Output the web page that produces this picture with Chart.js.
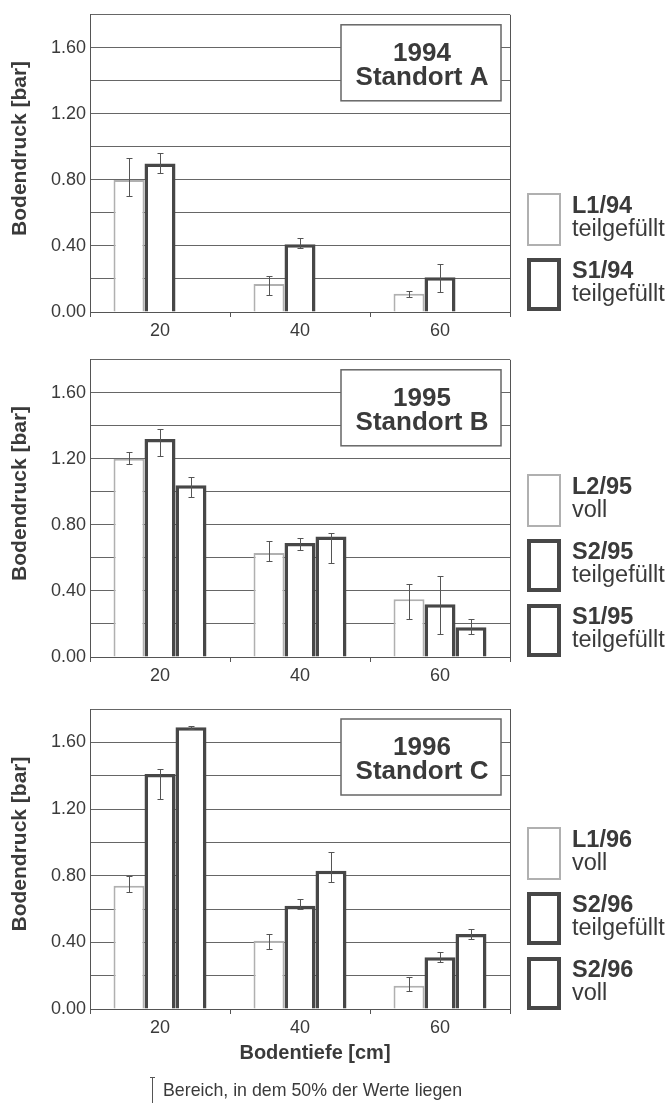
<!DOCTYPE html>
<html>
<head>
<meta charset="utf-8">
<script src="https://cdn.jsdelivr.net/npm/chart.js@4/dist/chart.umd.min.js"></script>
<style>
body { margin: 0; background: #fff; font-family: "Liberation Sans", Arial, sans-serif; color: #3a3a3a; }
#page { position: relative; width: 670px; height: 1103px; overflow: hidden; }
.panel { position: absolute; left: 0; }
.key-box { position: absolute; left: 527px; width: 34px; height: 53px; box-sizing: border-box; background: #fff; }
.key-box.light { border: 2px solid #b0b0b0; }
.key-box.dark { border: 4px solid #474747; }
.key-text { position: absolute; left: 572px; font-size: 23.5px; line-height: 23px; white-space: nowrap; }
.key-text b { display: block; }
#xtitle { position: absolute; left: 315px; top: 1040px; transform: translateX(-50%); font-weight: bold; font-size: 20px; line-height: 24px; white-space: nowrap; }
#note { position: absolute; left: 163px; top: 1080px; font-size: 17.8px; line-height: 20px; white-space: nowrap; }
#note-mark { position: absolute; left: 150px; top: 1077px; width: 5px; height: 30px; border-top: 1px solid #555;
  background: linear-gradient(#555, #555) center / 1px 100% no-repeat; }
</style>
</head>
<body>
<div id="page">
  <canvas id="c94" class="panel" width="670" height="345" style="top:0px"></canvas>
  <canvas id="c95" class="panel" width="670" height="345" style="top:345px"></canvas>
  <canvas id="c96" class="panel" width="670" height="413" style="top:690px"></canvas>
  <div id="xtitle">Bodentiefe [cm]</div>
  <div id="note-mark"></div>
  <div id="note">Bereich, in dem 50% der Werte liegen</div>
</div>
<script>
// Bodentiefe categories and labelled y ticks
const depths = ['20', '40', '60'];
const yLabelled = [0, 0.4, 0.8, 1.2, 1.6];

// 1994 Standort A
const l1_94 = [0.80, 0.17, 0.11];
const l1_94Lo = [0.70, 0.10, 0.09];
const l1_94Hi = [0.93, 0.22, 0.13];
const s1_94 = [0.90, 0.41, 0.21];
const s1_94Lo = [0.84, 0.39, 0.12];
const s1_94Hi = [0.96, 0.45, 0.29];

// 1995 Standort B
const l2_95 = [1.20, 0.63, 0.35];
const l2_95Lo = [1.17, 0.58, 0.23];
const l2_95Hi = [1.24, 0.70, 0.44];
const s2_95 = [1.32, 0.69, 0.32];
const s2_95Lo = [1.22, 0.65, 0.14];
const s2_95Hi = [1.38, 0.72, 0.49];
const s1_95 = [1.04, 0.73, 0.18];
const s1_95Lo = [0.97, 0.57, 0.14];
const s1_95Hi = [1.09, 0.75, 0.23];

// 1996 Standort C
const l1_96 = [0.74, 0.41, 0.14];
const l1_96Lo = [0.70, 0.36, 0.11];
const l1_96Hi = [0.80, 0.45, 0.19];
const s2_96t = [1.41, 0.62, 0.31];
const s2_96tLo = [1.26, 0.60, 0.28];
const s2_96tHi = [1.44, 0.66, 0.34];
const s2_96v = [1.69, 0.83, 0.45];
const s2_96vLo = [1.68, 0.76, 0.42];
const s2_96vHi = [1.70, 0.94, 0.48];

const textColor = '#3a3a3a';
const lineColor = '#555';
const lightColor = '#b0b0b0';
const darkColor = '#474747';
const fontFamily = '"Liberation Sans", Arial, sans-serif';

// error bars (50% range) drawn on top of the bars
const errorBars = {
    id: 'errorBars',
    afterDatasetsDraw(chart) {
        const ctx = chart.ctx;
        const y = chart.scales.y;
        ctx.save();
        ctx.strokeStyle = lineColor;
        ctx.lineWidth = 1;
        chart.data.datasets.forEach((ds, i) => {
            if (!ds.lo) return;
            chart.getDatasetMeta(i).data.forEach((bar, j) => {
                const x = Math.round(bar.x) + 0.5;
                const top = Math.round(y.getPixelForValue(ds.hi[j])) + 0.5;
                const bot = Math.round(y.getPixelForValue(ds.lo[j])) + 0.5;
                ctx.beginPath();
                ctx.moveTo(x, top); ctx.lineTo(x, bot);
                ctx.moveTo(x - 3, top); ctx.lineTo(x + 3, top);
                ctx.moveTo(x - 3, bot); ctx.lineTo(x + 3, bot);
                ctx.stroke();
            });
        });
        ctx.restore();
    }
};

// right frame, title box and y axis title
const panelDecor = {
    id: 'panelDecor',
    afterDraw(chart, args, opts) {
        const ctx = chart.ctx;
        const a = chart.chartArea;
        ctx.save();
        ctx.strokeStyle = lineColor;
        ctx.lineWidth = 1;
        ctx.beginPath();
        ctx.moveTo(Math.round(a.right) + 0.5, a.top);
        ctx.lineTo(Math.round(a.right) + 0.5, a.bottom);
        ctx.stroke();

        const bx = a.right - 169, by = a.top + 10, bw = 160, bh = 76;
        ctx.fillStyle = '#fff';
        ctx.fillRect(bx, by, bw, bh);
        ctx.strokeStyle = '#666';
        ctx.lineWidth = 1.5;
        ctx.strokeRect(bx, by, bw, bh);
        ctx.fillStyle = textColor;
        ctx.font = 'bold 26px ' + fontFamily;
        ctx.textAlign = 'center';
        ctx.textBaseline = 'middle';
        ctx.fillText(opts.lines[0], bx + bw / 2 + 1, by + 29);
        ctx.fillText(opts.lines[1], bx + bw / 2 + 1, by + 53);

        ctx.translate(20, (a.top + a.bottom) / 2 - 15);
        ctx.rotate(-Math.PI / 2);
        ctx.font = 'bold 21px ' + fontFamily;
        ctx.fillText('Bodendruck [bar]', 0, 0);
        ctx.restore();
    }
};

function barSet(label, data, lo, hi, light) {
    return {
        label: label,
        data: data,
        lo: lo,
        hi: hi,
        backgroundColor: '#fff',
        borderColor: light ? lightColor : darkColor,
        borderWidth: light ? 2 : 3.5,
        borderSkipped: 'start',
        barPercentage: 1,
        categoryPercentage: 0.664
    };
}

function makePanel(id, lines, datasets, padTop, padBottom) {
    return new Chart(document.getElementById(id).getContext('2d'), {
        type: 'bar',
        data: { labels: depths, datasets: datasets },
        options: {
            responsive: false,
            animation: false,
            layout: { padding: { top: padTop, right: 160, bottom: padBottom, left: 0 } },
            plugins: {
                legend: { display: false },
                tooltip: { enabled: false },
                panelDecor: { lines: lines }
            },
            scales: {
                x: {
                    ticks: { color: textColor, padding: 3, font: { size: 18, family: fontFamily } },
                    grid: { offset: true, drawOnChartArea: false, tickLength: 5, color: lineColor },
                    border: { color: lineColor, width: 1 },
                    afterFit(s) { s.height = 28; }
                },
                y: {
                    min: 0,
                    max: 1.8,
                    ticks: {
                        stepSize: 0.2,
                        padding: 4,
                        color: textColor,
                        autoSkip: false,
                        font: { size: 18, family: fontFamily },
                        callback: v => yLabelled.some(t => Math.abs(t - v) < 1e-6) ? v.toFixed(2) : ''
                    },
                    grid: { color: '#666', lineWidth: 1, drawTicks: false },
                    border: { color: lineColor, width: 1 },
                    afterFit(s) { s.width = 90; }
                }
            }
        },
        plugins: [errorBars, panelDecor]
    });
}

makePanel('c94', ['1994', 'Standort A'], [
    barSet('L1/94', l1_94, l1_94Lo, l1_94Hi, true),
    barSet('S1/94', s1_94, s1_94Lo, s1_94Hi, false),
    barSet('', [null, null, null], null, null, false)
], 12, 5);

makePanel('c95', ['1995', 'Standort B'], [
    barSet('L2/95', l2_95, l2_95Lo, l2_95Hi, true),
    barSet('S2/95', s2_95, s2_95Lo, s2_95Hi, false),
    barSet('S1/95', s1_95, s1_95Lo, s1_95Hi, false)
], 14, 5);

makePanel('c96', ['1996', 'Standort C'], [
    barSet('L1/96', l1_96, l1_96Lo, l1_96Hi, true),
    barSet('S2/96', s2_96t, s2_96tLo, s2_96tHi, false),
    barSet('S2/96', s2_96v, s2_96vLo, s2_96vHi, false)
], 19, 66);

// legends at the right of each panel
const legends = [
    { top: 193, names: ['L1/94', 'S1/94'], fill: ['teilgefüllt', 'teilgefüllt'] },
    { top: 474, names: ['L2/95', 'S2/95', 'S1/95'], fill: ['voll', 'teilgefüllt', 'teilgefüllt'] },
    { top: 827, names: ['L1/96', 'S2/96', 'S2/96'], fill: ['voll', 'teilgefüllt', 'voll'] }
];
const page = document.getElementById('page');
legends.forEach(lg => {
    lg.names.forEach((name, i) => {
        const top = lg.top + i * 65;
        const box = document.createElement('div');
        box.className = 'key-box ' + (name.startsWith('L') ? 'light' : 'dark');
        box.style.top = top + 'px';
        page.appendChild(box);
        const txt = document.createElement('div');
        txt.className = 'key-text';
        txt.style.top = (top + 1) + 'px';
        txt.innerHTML = '<b>' + name + '</b>' + lg.fill[i];
        page.appendChild(txt);
    });
});
</script>
</body>
</html>
